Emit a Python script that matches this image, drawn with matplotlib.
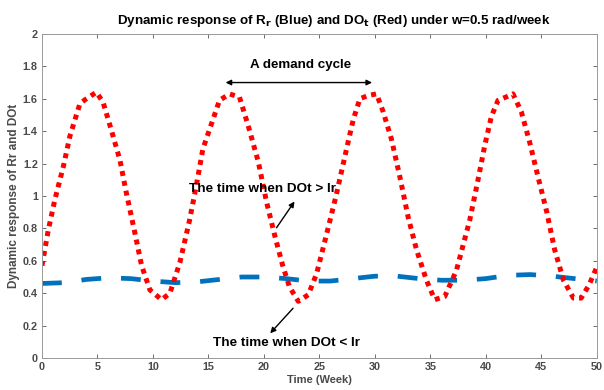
import matplotlib
matplotlib.use("Agg")
import matplotlib.pyplot as plt
import numpy as np

plt.rcParams['font.family'] = ['Liberation Sans', 'DejaVu Sans']

# DOt (red)
red_t = [0, 0.57, 1.17, 1.92, 2.52, 3.42, 4.0, 4.9, 5.5, 6.28, 7.03, 7.6, 8.38, 8.98, 9.73,
         10.78, 11.53, 12.43, 13.3, 13.9, 14.5, 15.3, 16.0, 16.9, 17.8, 18.6, 19.5, 20.25,
         21.0, 21.7, 22.3, 23.1, 24.0, 24.75, 25.6, 26.5, 27.45, 28.05, 28.65, 29.4, 30.15,
         30.75, 31.5, 32.25, 33.0, 33.75, 34.65, 35.4, 36.3, 37.35, 38.55, 39.3, 39.9,
         40.5, 41.1, 41.8, 42.45, 43.2, 43.96, 44.7, 45.5, 46.2, 47.0, 47.9, 48.6, 49.3, 50]
red_v = [0.57, 0.79, 0.98, 1.18, 1.37, 1.57, 1.60, 1.64, 1.58, 1.40, 1.22, 1.02, 0.77, 0.57, 0.42,
         0.36, 0.40, 0.59, 0.85, 1.06, 1.29, 1.45, 1.59, 1.63, 1.61, 1.43, 1.21, 0.96,
         0.75, 0.57, 0.44, 0.35, 0.39, 0.52, 0.75, 1.00, 1.29, 1.47, 1.60, 1.62, 1.63,
         1.52, 1.35, 1.12, 0.87, 0.67, 0.48, 0.36, 0.38, 0.54, 0.85, 1.10, 1.31,
         1.49, 1.59, 1.61, 1.63, 1.52, 1.33, 1.12, 0.90, 0.67, 0.48, 0.37, 0.37, 0.45, 0.56]

# Rr (blue)
blue_t = [0, 2, 4, 6, 8, 10, 12, 14, 16, 18, 20, 22, 24, 26, 28, 30, 32, 34, 36, 38, 40,
          42, 44, 46, 48, 50]
blue_v = [0.46, 0.465, 0.485, 0.495, 0.49, 0.475, 0.465, 0.47, 0.485, 0.50, 0.50, 0.49,
          0.475, 0.475, 0.49, 0.505, 0.505, 0.49, 0.48, 0.48, 0.49, 0.51, 0.515, 0.505,
          0.49, 0.475]

x_ticks = [0, 5, 10, 15, 20, 25, 30, 35, 40, 45, 50]
y_ticks = [0, 0.2, 0.4, 0.6, 0.8, 1.0, 1.2, 1.4, 1.6, 1.8, 2.0]
y_tick_labels = ['0', '0.2', '0.4', '0.6', '0.8', '1', '1.2', '1.4', '1.6', '1.8', '2']

fig = plt.figure(figsize=(6.04, 3.90), dpi=100)
ax = fig.add_axes([0.0695, 0.082, 0.9185, 0.831])

ax.plot(blue_t, blue_v, color='#0072BD', lw=3.4, linestyle=(0, (4.2, 4.2)))
ax.plot(red_t, red_v, color='#FF0000', lw=3.6, linestyle=(0, (1, 1)))

ax.set_xlim(0, 50)
ax.set_ylim(0, 2)
ax.set_xticks(x_ticks)
ax.set_yticks(y_ticks)
ax.set_yticklabels(y_tick_labels)
gray = '#4a4a4a'
ax.tick_params(direction='in', length=3, width=0.6, colors='#555555', labelcolor=gray,
               labelsize=7.8, top=True, right=True, pad=3)
for lab in ax.get_xticklabels() + ax.get_yticklabels():
    lab.set_fontweight('bold')
for s in ax.spines.values():
    s.set_color('#999999')
    s.set_linewidth(0.7)

ax.set_xlabel('Time (Week)', fontsize=8, color=gray, fontweight='bold', labelpad=2)
ax.set_ylabel('Dynamic response of Rr and DOt', fontsize=8.5, color=gray,
              fontweight='bold', labelpad=2)
ax.set_title(r'Dynamic response of R$_\mathbf{r}$ (Blue) and DO$_\mathbf{t}$ (Red) under w=0.5 rad/week',
             fontsize=9.6, fontweight='bold', pad=7, x=0.526)

ax.text(23.3, 1.81, 'A demand cycle', ha='center', va='center', fontsize=9.6, fontweight='bold')
ax.annotate('', xy=(16.3, 1.70), xytext=(30.0, 1.70),
            arrowprops=dict(arrowstyle='<|-|>', color='black', lw=1, mutation_scale=8))
ax.text(19.9, 1.04, 'The time when DOt > Ir', ha='center', va='center', fontsize=9.7,
        fontweight='bold')
ax.annotate('', xy=(22.9, 0.98), xytext=(21.0, 0.79),
            arrowprops=dict(arrowstyle='-|>', color='black', lw=1, mutation_scale=8))
ax.text(22.0, 0.09, 'The time when DOt < Ir', ha='center', va='center', fontsize=9.7,
        fontweight='bold')
ax.annotate('', xy=(20.4, 0.14), xytext=(22.8, 0.32),
            arrowprops=dict(arrowstyle='-|>', color='black', lw=1, mutation_scale=8))

fig.savefig('out.png', dpi=100)
